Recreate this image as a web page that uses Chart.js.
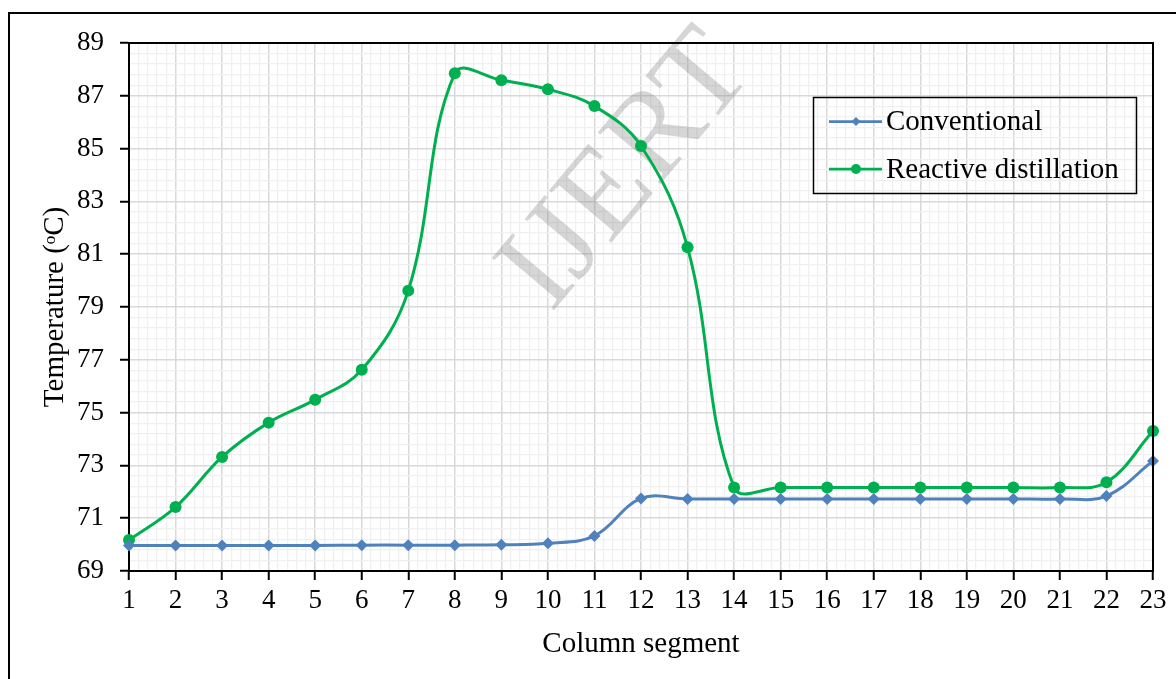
<!DOCTYPE html>
<html><head><meta charset="utf-8">
<script src="https://cdn.jsdelivr.net/npm/chart.js@4.4.0/dist/chart.umd.min.js"></script>
<style>html,body{margin:0;padding:0;background:#fff;overflow:hidden}#wrap{width:1176px;height:679px;position:relative}</style>
</head><body><div id="wrap"><canvas id="c" width="1176" height="679"></canvas></div>
<script>
const segments = [1,2,3,4,5,6,7,8,9,10,11,12,13,14,15,16,17,18,19,20,21,22,23];
const conventional = [69.97,69.97,69.97,69.97,69.97,69.98,69.98,69.98,69.99,70.05,70.33,71.75,71.73,71.73,71.73,71.73,71.73,71.73,71.73,71.73,71.73,71.84,73.17];
const reactive = [70.17,71.42,73.32,74.62,75.49,76.62,79.62,87.85,87.59,87.25,86.61,85.10,81.26,72.16,72.16,72.16,72.16,72.16,72.16,72.16,72.16,72.36,74.30];
const yTickLabels = [69,71,73,75,77,79,81,83,85,87,89];
const seriesNames = ['Conventional','Reactive distillation'];
const seriesColors = ['#4F81BD','#00B050'];

const FONT = "'Liberation Serif','Times New Roman',serif";
const near = (a,b)=>Math.abs(a-b)<1e-6;
const isMajorX = v => near(v, Math.round(v));
const isMajorY = v => yTickLabels.some(t=>near(t,v));

const extras = {
  id:'extras',
  beforeDatasetsDraw(chart){
    const ctx = chart.ctx;
    ctx.save();
    ctx.translate(628,172);
    ctx.rotate(-0.87);
    ctx.font = "124px " + FONT;
    ctx.fillStyle = 'rgba(120,120,120,0.30)';
    ctx.textAlign='center'; ctx.textBaseline='middle';
    ctx.fillText('IJERT',0,0);
    ctx.restore();
  },
  afterDraw(chart){
    const ctx = chart.ctx, a = chart.chartArea;
    ctx.save();
    ctx.strokeStyle='#000'; ctx.lineWidth=2;
    ctx.beginPath(); ctx.moveTo(a.left-1,a.top); ctx.lineTo(a.right,a.top); ctx.lineTo(a.right,a.bottom+1); ctx.stroke();
    ctx.beginPath(); ctx.moveTo(9,679); ctx.lineTo(9,13); ctx.lineTo(1176,13); ctx.stroke();
    // legend
    ctx.lineWidth=1.5;
    ctx.strokeRect(813.5,97.5,323,96);
    const rows=[121.5,169];
    chart.data.datasets.forEach((ds,i)=>{
      const y=rows[i];
      ctx.strokeStyle=ds.borderColor; ctx.lineWidth=2.75;
      ctx.beginPath(); ctx.moveTo(829,y); ctx.lineTo(882,y); ctx.stroke();
      ctx.fillStyle=ds.borderColor;
      ctx.beginPath();
      if(i===0){ const r=4.5; ctx.moveTo(856-r,y); ctx.lineTo(856,y-r); ctx.lineTo(856+r,y); ctx.lineTo(856,y+r); ctx.closePath(); }
      else { ctx.arc(856,y,5,0,Math.PI*2); }
      ctx.fill();
      ctx.fillStyle='#000'; ctx.font="29px "+FONT; ctx.textAlign='left'; ctx.textBaseline='middle';
      ctx.fillText(ds.label,886,y+1);
    });
    ctx.restore();
  }
};

new Chart(document.getElementById('c'),{
  type:'line',
  data:{
    datasets:[
      {label:seriesNames[0],data:segments.map((s,i)=>({x:s,y:conventional[i]})),borderColor:seriesColors[0],backgroundColor:seriesColors[0],
       borderWidth:3,tension:0.38,pointStyle:'rectRot',pointRadius:6,pointBorderWidth:0,pointBackgroundColor:seriesColors[0],clip:false},
      {label:seriesNames[1],data:segments.map((s,i)=>({x:s,y:reactive[i]})),borderColor:seriesColors[1],backgroundColor:seriesColors[1],
       borderWidth:3,tension:0.38,pointStyle:'circle',pointRadius:6,pointBorderWidth:0,pointBackgroundColor:seriesColors[1],clip:false}
    ]
  },
  options:{
    responsive:false,animation:false,devicePixelRatio:1,
    layout:{padding:{left:0,right:23,top:43,bottom:0}},
    plugins:{legend:{display:false},tooltip:{enabled:false}},
    scales:{
      x:{type:'linear',min:1,max:23,
        ticks:{stepSize:0.2,autoSkip:false,maxRotation:0,padding:5,color:'#000',font:{family:FONT,size:27},
          callback:v=>isMajorX(v)?String(Math.round(v)):''},
        grid:{color:c=>c.tick&&isMajorX(c.tick.value)?'#d9d9d9':'#f0f0f0',lineWidth:c=>c.tick&&isMajorX(c.tick.value)?1.5:1.3,
          tickColor:c=>c.tick&&isMajorX(c.tick.value)?'#000':'rgba(0,0,0,0)',tickLength:9,tickWidth:2},
        border:{color:'#000',width:2},
        title:{display:true,text:'Column segment',color:'#000',font:{family:FONT,size:29},padding:{top:0,bottom:17}},
        afterFit:s=>{s.height=108;}
      },
      y:{type:'linear',min:69,max:89,
        ticks:{stepSize:0.4,autoSkip:false,padding:16,color:'#000',font:{family:FONT,size:27},
          callback:v=>isMajorY(v)?String(Math.round(v)):''},
        grid:{color:c=>c.tick&&isMajorY(c.tick.value)?'#d9d9d9':'#f0f0f0',lineWidth:c=>c.tick&&isMajorY(c.tick.value)?1.5:1.3,
          tickColor:c=>c.tick&&isMajorY(c.tick.value)?'#000':'rgba(0,0,0,0)',tickLength:9,tickWidth:2},
        border:{color:'#000',width:2},
        title:{display:true,text:'Temperature (ᵒC)',color:'#000',font:{family:FONT,size:29},padding:{top:38,bottom:0}},
        afterFit:s=>{s.width=129;}
      }
    }
  },
  plugins:[extras]
});
</script></body></html>
